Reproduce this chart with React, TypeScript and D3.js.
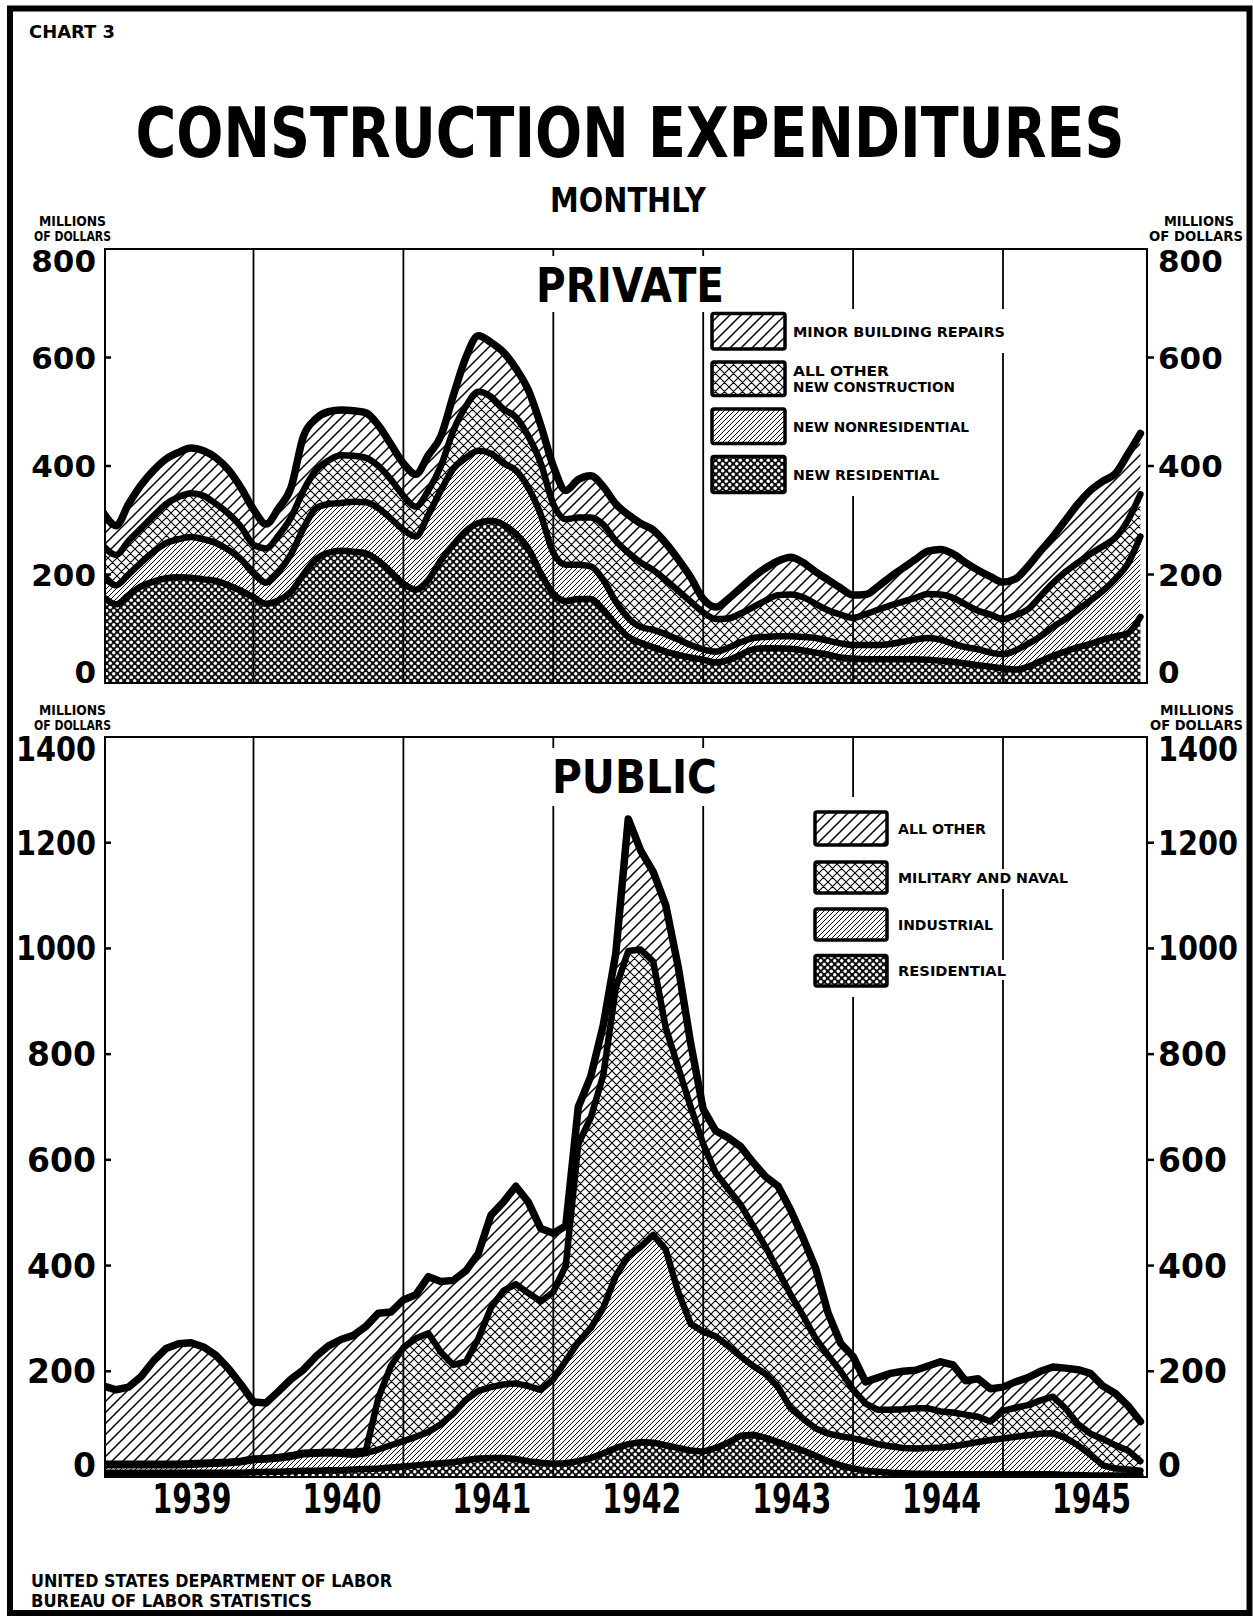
import React, { useMemo } from 'react';
import * as d3 from 'd3';

const W = 1253;
const H = 1619;
const FONT = "'DejaVu Sans', sans-serif";

const START_YEAR = 1939;
const YEAR_LABELS = [1939, 1940, 1941, 1942, 1943, 1944, 1945];
const YEAR_LINES = [1940, 1941, 1942, 1943, 1944, 1945];
const PRIVATE_TICKS = [0, 200, 400, 600, 800];
const PUBLIC_TICKS = [0, 200, 400, 600, 800, 1000, 1200, 1400];

// PRIVATE, monthly Jan 1939 - Dec 1945, millions of dollars
const privateResidential = [
  158, 145, 162, 178, 187, 193, 195, 194, 191, 188, 180, 170,
  158, 146, 152, 168, 200, 228, 240, 244, 242, 239, 225, 205,
  183, 172, 190, 226, 255, 280, 295, 299, 292, 275, 248, 202,
  165, 151, 155, 155, 135, 108, 85, 74, 66, 58, 52, 47,
  43, 38, 42, 52, 62, 64, 64, 63, 60, 56, 52, 47,
  45, 44, 44, 44, 44, 44, 43, 41, 39, 36, 33, 30,
  27, 25, 30, 40, 50, 58, 66, 72, 80, 86, 92, 122,
];
const privateNonresidential = [
  40, 35, 38, 44, 55, 65, 70, 75, 74, 70, 65, 58,
  44, 39, 53, 69, 85, 94, 90, 88, 92, 94, 97, 98,
  99, 98, 120, 129, 140, 135, 133, 124, 113, 117, 112, 108,
  75, 67, 63, 60, 55, 42, 35, 29, 32, 32, 28, 23,
  19, 20, 23, 23, 21, 21, 22, 23, 25, 27, 26, 26,
  25, 26, 26, 28, 32, 36, 40, 39, 33, 30, 29, 26,
  26, 35, 42, 46, 53, 60, 69, 80, 90, 106, 128, 148,
];
const privateOtherNew = [
  54, 56, 62, 63, 66, 72, 78, 81, 80, 72, 67, 60,
  53, 63, 67, 68, 70, 70, 80, 88, 85, 82, 78, 72,
  63, 55, 45, 45, 70, 95, 109, 105, 100, 98, 95, 95,
  90, 84, 87, 90, 102, 112, 120, 119, 110, 100, 90, 80,
  68, 60, 54, 53, 57, 67, 76, 77, 73, 63, 56, 53,
  50, 57, 65, 71, 74, 77, 81, 83, 85, 79, 71, 70,
  65, 65, 64, 74, 81, 87, 87, 86, 82, 76, 80, 78,
];
const privateRepairs = [
  61, 54, 68, 80, 84, 83, 82, 83, 83, 85, 81, 72,
  65, 45, 50, 55, 100, 95, 90, 83, 83, 83, 75, 65,
  60, 60, 65, 55, 65, 90, 103, 100, 105, 90, 85, 70,
  70, 53, 70, 77, 70, 68, 70, 72, 74, 68, 58, 45,
  25, 22, 36, 47, 55, 60, 63, 69, 64, 59, 56, 49,
  42, 36, 43, 53, 62, 71, 79, 83, 81, 77, 75, 70,
  68, 67, 79, 83, 86, 95, 108, 117, 120, 118, 122, 112,
];

// PUBLIC
const publicResidential = [
  8, 8, 8, 8, 8, 8, 8, 8, 8, 8, 8, 8,
  9, 10, 10, 11, 12, 12, 13, 13, 14, 15, 16, 18,
  20, 22, 24, 26, 28, 32, 35, 36, 36, 34, 30, 27,
  25, 26, 30, 36, 45, 55, 62, 66, 65, 60, 55, 50,
  48, 55, 65, 78, 80, 74, 66, 58, 50, 40, 30, 22,
  16, 12, 10, 8, 7, 6, 6, 5, 5, 5, 5, 5,
  5, 5, 5, 5, 5, 4, 4, 3, 3, 3, 3, 3,
];
const publicIndustrial = [
  14, 14, 14, 14, 14, 14, 14, 15, 16, 17, 18, 20,
  23, 23, 25, 27, 31, 32, 32, 31, 28, 30, 36, 42,
  48, 54, 61, 74, 92, 114, 128, 134, 139, 143, 142, 138,
  160, 194, 225, 246, 275, 325, 356, 370, 393, 370, 295, 240,
  227, 211, 183, 150, 130, 121, 104, 72, 60, 52, 52, 55,
  57, 56, 52, 50, 48, 48, 49, 51, 53, 57, 61, 65,
  68, 71, 74, 77, 78, 70, 56, 39, 19, 13, 11, 9,
];
const publicMilitary = [
  3, 3, 3, 3, 3, 3, 3, 3, 3, 3, 3, 3,
  3, 3, 3, 3, 3, 3, 3, 3, 6, 5, 98, 150,
  177, 186, 187, 136, 92, 72, 99, 150, 177, 188, 176, 167,
  165, 180, 375, 398, 440, 545, 577, 562, 517, 420, 425, 410,
  355, 309, 297, 287, 265, 240, 220, 215, 195, 170, 148, 123,
  92, 71, 65, 69, 73, 76, 75, 68, 64, 56, 48, 35,
  52, 55, 57, 63, 69, 56, 40, 40, 50, 44, 36, 18,
];
const publicOther = [
  147, 140, 145, 165, 195, 218, 227, 228, 219, 202, 176, 144,
  107, 104, 124, 144, 157, 181, 200, 213, 220, 235, 160, 102,
  90, 83, 107, 134, 160, 172, 161, 175, 168, 185, 172, 138,
  111, 75, 70, 78, 95, 65, 250, 187, 170, 232, 190, 120,
  66, 80, 97, 110, 120, 133, 160, 160, 147, 133, 80, 53,
  63, 41, 61, 69, 72, 72, 80, 94, 90, 64, 72, 62,
  45, 49, 52, 55, 56, 76, 103, 114, 100, 98, 85, 75,
];

const PRIVATE_LEGEND = [
  { key: 'repairs', lines: ['MINOR BUILDING REPAIRS'], widths: [212] },
  { key: 'otherNew', lines: ['ALL OTHER', 'NEW CONSTRUCTION'], widths: [96, 162] },
  { key: 'nonresidential', lines: ['NEW NONRESIDENTIAL'], widths: [176] },
  { key: 'residential', lines: ['NEW RESIDENTIAL'], widths: [146] },
];
const PUBLIC_LEGEND = [
  { key: 'other', lines: ['ALL OTHER'], widths: [88] },
  { key: 'military', lines: ['MILITARY AND NAVAL'], widths: [170] },
  { key: 'industrial', lines: ['INDUSTRIAL'], widths: [95] },
  { key: 'residential', lines: ['RESIDENTIAL'], widths: [108] },
];

const FILLS: Record<string, string> = {
  residential: 'url(#dots)',
  nonresidential: 'url(#fine)',
  industrial: 'url(#fine)',
  otherNew: 'url(#cross)',
  military: 'url(#cross)',
  repairs: 'url(#wide)',
  other: 'url(#wide)',
};

const PLOT_LEFT = 105;
const PLOT_RIGHT = 1147;

const x = d3.scaleLinear().domain([1939, 1946]).range([103.6, 1152.9]);

function Txt({ x, y, w, size, anchor = 'start', children }: any) {
  return (
    <text
      x={x}
      y={y}
      fontFamily={FONT}
      fontWeight="bold"
      fontSize={size}
      textAnchor={anchor}
      textLength={w}
      lengthAdjust={w ? 'spacingAndGlyphs' : undefined}
      fill="#000"
    >
      {children}
    </text>
  );
}

function Panel({ id, rows, keys, y, ticks, curve, capH, tickSize }: any) {
  const stacked = d3.stack().keys(keys)(rows);
  const area = d3
    .area<any>()
    .x((d) => x(d.data.t))
    .y0((d) => y(d[0]))
    .y1((d) => y(d[1]))
    .curve(curve);
  const line = d3
    .line<any>()
    .x((d) => x(d.data.t))
    .y((d) => y(d[1]))
    .curve(curve);
  const [bottom, top] = y.range();
  const maxTick = ticks[ticks.length - 1];

  return (
    <g>
      <clipPath id={`clip-${id}`}>
        <rect x={PLOT_LEFT} y={top} width={PLOT_RIGHT - PLOT_LEFT} height={bottom - top} />
      </clipPath>
      <g clipPath={`url(#clip-${id})`}>
        {stacked.map((s: any) => (
          <path key={s.key} d={area(s) as string} fill={FILLS[s.key]} />
        ))}
        {YEAR_LINES.map((yr) => (
          <line key={yr} x1={x(yr)} x2={x(yr)} y1={top} y2={bottom} stroke="#000" strokeWidth={1.8} />
        ))}
        {stacked.map((s: any, i: number) => (
          <path
            key={s.key}
            d={line(s) as string}
            fill="none"
            stroke="#000"
            strokeWidth={i === stacked.length - 1 ? 7.5 : 6.5}
            strokeLinejoin="round"
            strokeLinecap="round"
          />
        ))}
      </g>
      <rect x={PLOT_LEFT} y={top} width={PLOT_RIGHT - PLOT_LEFT} height={bottom - top} fill="none" stroke="#000" strokeWidth={2} />
      {ticks.map((t: number) => {
        const ty = y(t);
        const label = String(t);
        const w = label.length === 4 ? 80 : undefined;
        let base = ty + capH / 2;
        if (t === 0) base = bottom;
        if (t === maxTick) base = top + capH;
        const mid = t !== 0 && t !== maxTick;
        return (
          <g key={t}>
            {mid && <line x1={PLOT_LEFT} x2={PLOT_LEFT + 6} y1={ty} y2={ty} stroke="#000" strokeWidth={2.5} />}
            {mid && <line x1={PLOT_RIGHT} x2={PLOT_RIGHT + 7} y1={ty} y2={ty} stroke="#000" strokeWidth={2.5} />}
            <Txt x={96} y={base} size={tickSize} anchor="end" w={w}>{label}</Txt>
            <Txt x={1158} y={base} size={tickSize} w={w}>{label}</Txt>
          </g>
        );
      })}
    </g>
  );
}

function Legend({ items, x0, boxW, rows, textX }: any) {
  return (
    <g>
      {items.map((it: any, i: number) => {
        const [y0, y1] = rows[i];
        const cy = (y0 + y1) / 2;
        const n = it.lines.length;
        return (
          <g key={it.key}>
            <rect x={x0} y={y0} width={boxW} height={y1 - y0} rx={2} fill={FILLS[it.key]} stroke="#000" strokeWidth={3.5} />
            {it.lines.map((ln: string, j: number) => {
              const by = cy + 5.4 + (j - (n - 1) / 2) * 15.5;
              return (
                <Txt key={ln} x={textX} y={by} size={14.5} w={it.widths[j]}>{ln}</Txt>
              );
            })}
          </g>
        );
      })}
    </g>
  );
}

export default function App() {
  const privateRows = useMemo(
    () =>
      privateResidential.map((v, i) => ({
        t: START_YEAR + i / 12,
        residential: v,
        nonresidential: privateNonresidential[i],
        otherNew: privateOtherNew[i],
        repairs: privateRepairs[i],
      })),
    []
  );
  const publicRows = useMemo(
    () =>
      publicResidential.map((v, i) => ({
        t: START_YEAR + i / 12,
        residential: v,
        industrial: publicIndustrial[i],
        military: publicMilitary[i],
        other: publicOther[i],
      })),
    []
  );

  const yPrivate = d3.scaleLinear().domain([0, 800]).range([683, 249]);
  const yPublic = d3.scaleLinear().domain([0, 1400]).range([1477, 737]);

  return (
    <div style={{ position: 'absolute', left: 0, top: 0 }}>
      <svg width={W} height={H} viewBox={`0 0 ${W} ${H}`} style={{ display: 'block', background: '#fff' }}>
        <defs>
          <pattern id="wide" width={11} height={11} patternUnits="userSpaceOnUse">
            <rect width={11} height={11} fill="#fff" />
            <path d="M-2,2 L2,-2 M0,11 L11,0 M9,13 L13,9" stroke="#000" strokeWidth={1.5} />
          </pattern>
          <pattern id="fine" width={5} height={5} patternUnits="userSpaceOnUse">
            <rect width={5} height={5} fill="#fff" />
            <path d="M-1,1 L1,-1 M0,5 L5,0 M4,6 L6,4" stroke="#000" strokeWidth={1} />
          </pattern>
          <pattern id="cross" width={9} height={9} patternUnits="userSpaceOnUse">
            <rect width={9} height={9} fill="#fff" />
            <path
              d="M-1,1 L1,-1 M0,9 L9,0 M8,10 L10,8 M-1,8 L1,10 M0,0 L9,9 M8,-1 L10,1"
              stroke="#000"
              strokeWidth={1.1}
            />
          </pattern>
          <pattern id="dots" width={7} height={7} patternUnits="userSpaceOnUse">
            <rect width={7} height={7} fill="#111" />
            <circle cx={1.75} cy={1.75} r={1.7} fill="#fff" />
            <circle cx={5.25} cy={5.25} r={1.7} fill="#fff" />
          </pattern>
        </defs>

        <rect x={0} y={0} width={W} height={H} fill="#fff" />
        <rect x={10} y={8.5} width={1239.5} height={1604.5} fill="none" stroke="#000" strokeWidth={6} />

        <Txt x={29} y={38} size={18} w={86}>CHART 3</Txt>
        <text
          transform="translate(630,157) scale(0.805,1)"
          textAnchor="middle"
          fontFamily={FONT}
          fontWeight="bold"
          fontSize={69}
          fill="#000"
        >
          CONSTRUCTION EXPENDITURES
        </text>
        <Txt x={550} y={211.5} size={34} w={156}>MONTHLY</Txt>

        <Txt x={39} y={226} size={13.5} w={67}>MILLIONS</Txt>
        <Txt x={34} y={240.5} size={13.5} w={77}>OF DOLLARS</Txt>
        <Txt x={1164} y={226} size={13.5} w={70}>MILLIONS</Txt>
        <Txt x={1149} y={240.5} size={13.5} w={94}>OF DOLLARS</Txt>

        <Txt x={39} y={714.5} size={13.5} w={67}>MILLIONS</Txt>
        <Txt x={34} y={729.5} size={13.5} w={77}>OF DOLLARS</Txt>
        <Txt x={1160} y={714.5} size={13.5} w={74}>MILLIONS</Txt>
        <Txt x={1150} y={729.5} size={13.5} w={93}>OF DOLLARS</Txt>

        <Panel
          id="private"
          rows={privateRows}
          keys={['residential', 'nonresidential', 'otherNew', 'repairs']}
          y={yPrivate}
          ticks={PRIVATE_TICKS}
          curve={d3.curveMonotoneX}
          capH={22.5}
          tickSize={31}
        />
        <Panel
          id="public"
          rows={publicRows}
          keys={['residential', 'industrial', 'military', 'other']}
          y={yPublic}
          ticks={PUBLIC_TICKS}
          curve={d3.curveLinear}
          capH={24}
          tickSize={33}
        />

        {/* white gaps behind titles and legends */}
        <rect x={530} y={256} width={200} height={56} fill="#fff" />
        <Txt x={536} y={301.5} size={48} w={188}>PRIVATE</Txt>
        <rect x={708} y={309} width={274} height={187} fill="#fff" />
        <rect x={708} y={309} width={302} height={44} fill="#fff" />
        <Legend
          items={PRIVATE_LEGEND}
          x0={712}
          boxW={73}
          rows={[[313.5, 349], [362, 395.5], [409, 443.5], [456.5, 492.5]]}
          textX={793}
        />

        <rect x={540} y={748} width={182} height={58} fill="#fff" />
        <Txt x={552} y={792.5} size={47} w={165}>PUBLIC</Txt>
        <rect x={809} y={797} width={86} height={200} fill="#fff" />
        <rect x={894} y={819} width={98} height={20} fill="#fff" />
        <rect x={894} y={869} width={182} height={20} fill="#fff" />
        <rect x={894} y={916} width={106} height={20} fill="#fff" />
        <rect x={894} y={960} width={120} height={20} fill="#fff" />
        <Legend
          items={PUBLIC_LEGEND}
          x0={815}
          boxW={72}
          rows={[[812, 845], [862, 893], [909, 940], [955.5, 986]]}
          textX={898}
        />

        {YEAR_LABELS.map((yr) => (
          <Txt key={yr} x={x(yr + 0.59)} y={1513} size={40} w={79} anchor="middle">
            {yr}
          </Txt>
        ))}

        <Txt x={31} y={1586.5} size={18.5} w={361}>UNITED STATES DEPARTMENT OF LABOR</Txt>
        <Txt x={31} y={1607} size={18.5} w={281}>BUREAU OF LABOR STATISTICS</Txt>
      </svg>
    </div>
  );
}
